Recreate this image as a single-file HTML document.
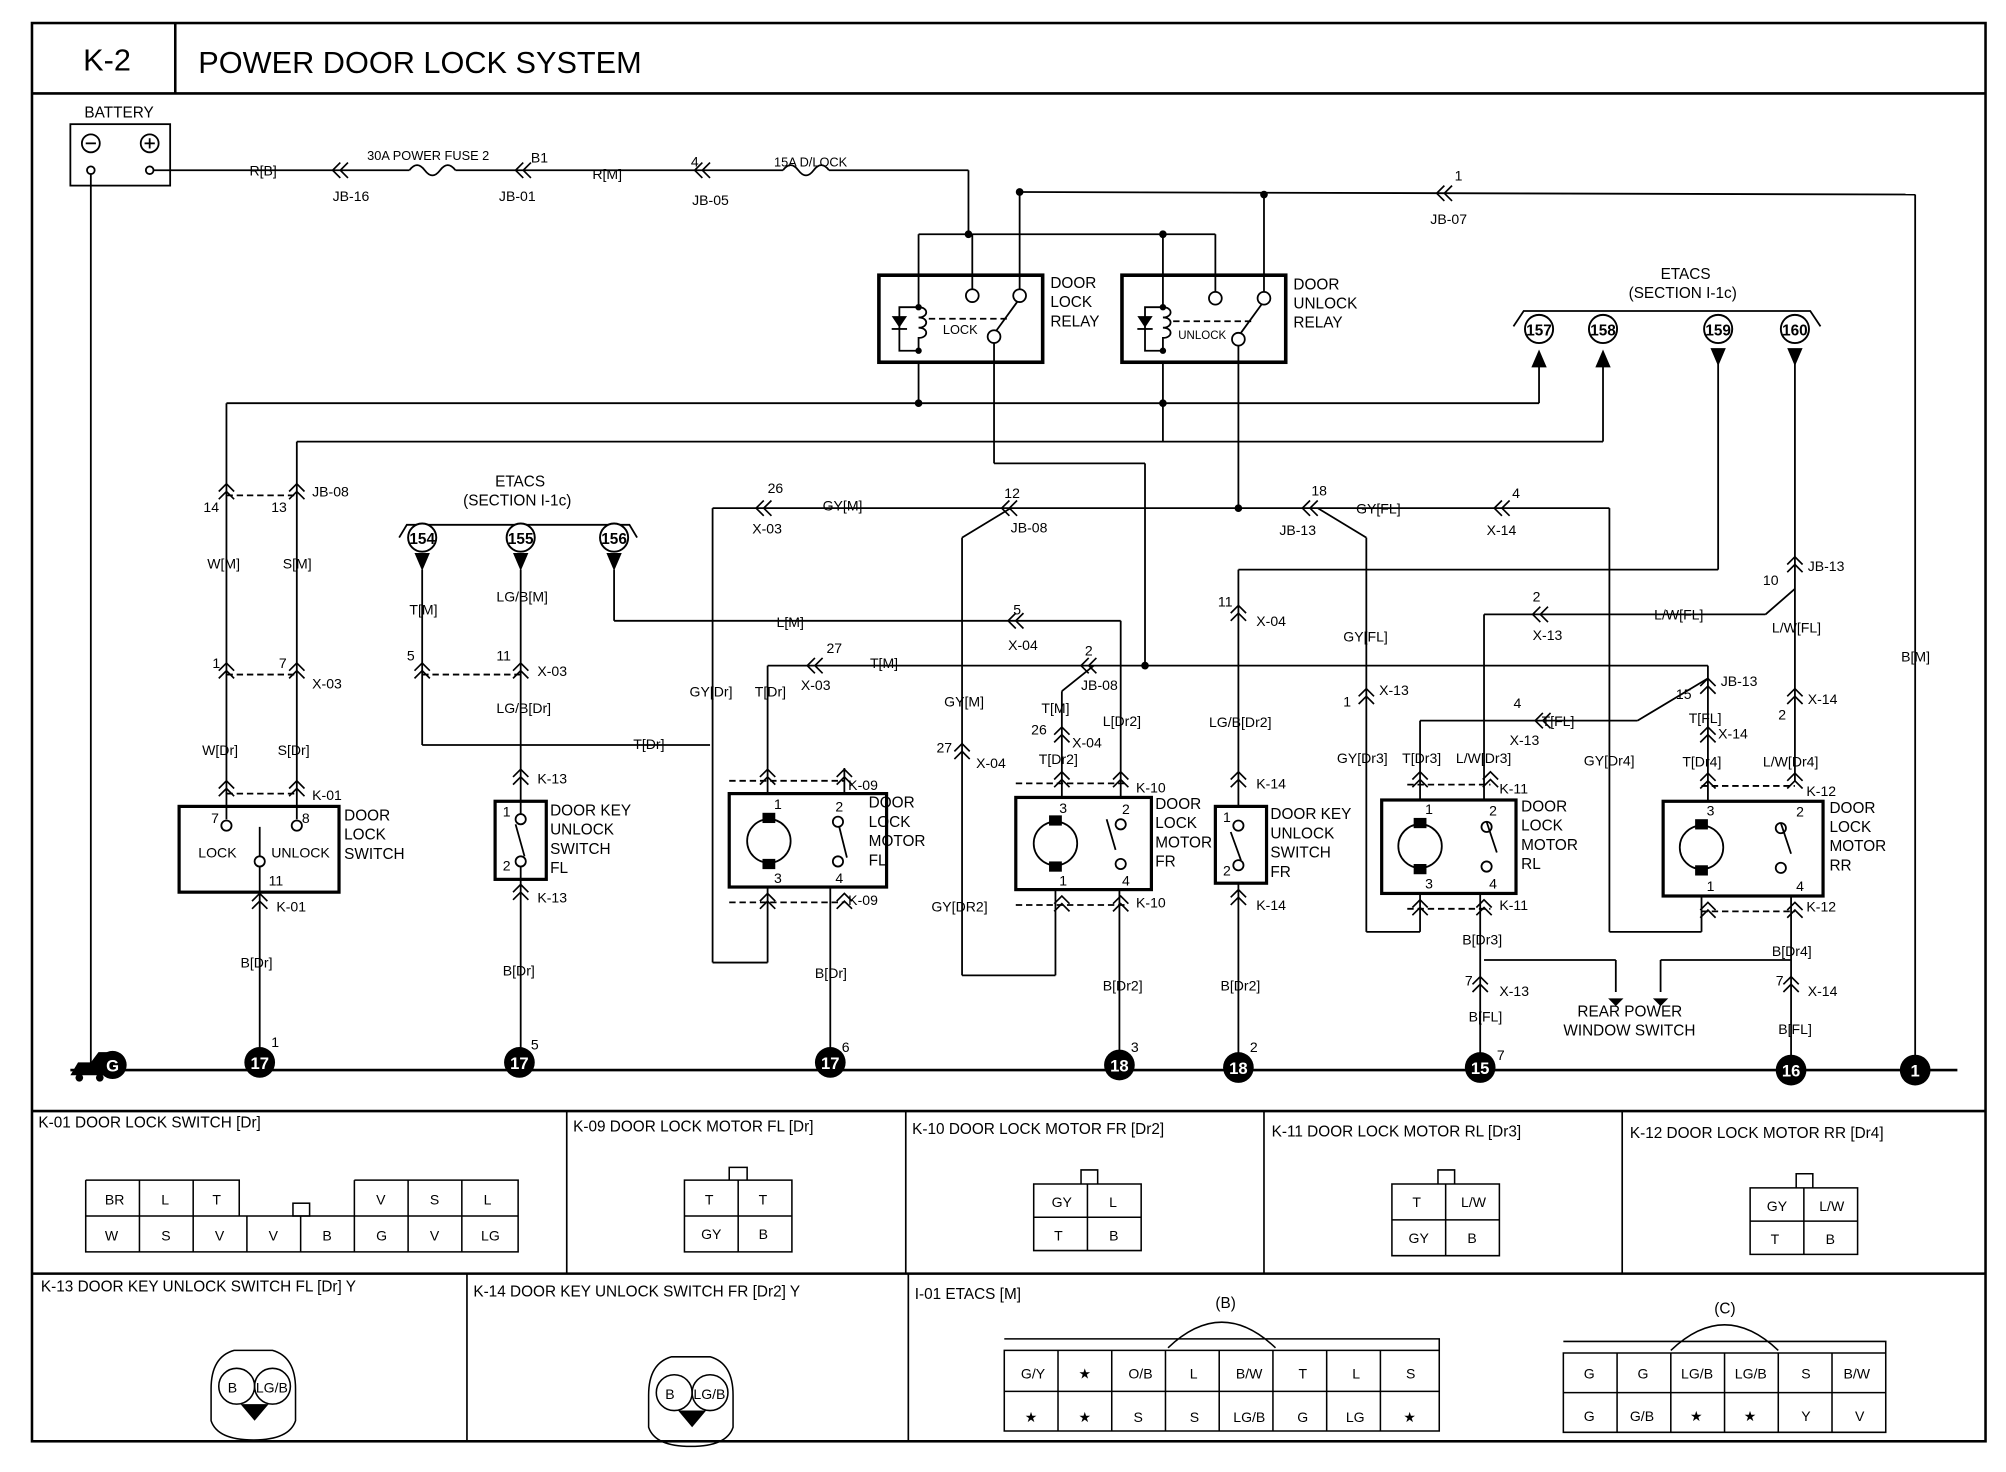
<!DOCTYPE html>
<html><head><meta charset="utf-8"><style>
html,body{margin:0;padding:0;background:#fff;}
svg{display:block}
text{font-family:"Liberation Sans",sans-serif;fill:#000}
</style></head><body>
<svg width="2006" height="1472" viewBox="0 0 1568 1150" preserveAspectRatio="none" xmlns="http://www.w3.org/2000/svg">
<defs>
<g id="cv"><path d="M-6,4 L0,-2 L6,4 M-6,10 L0,4 L6,10" fill="none" stroke="#000" stroke-width="1.3"/></g>
<g id="ch"><path d="M4,-6 L-2,0 L4,6 M10,-6 L4,0 L10,6" fill="none" stroke="#000" stroke-width="1.3"/></g>
</defs>
<g stroke="#000" fill="none" stroke-width="2">
<rect x="25" y="18" width="1527" height="1108"/>
<line x1="25" y1="73" x2="1552" y2="73"/>
<line x1="137" y1="18" x2="137" y2="73"/>
<line x1="25" y1="868" x2="1552" y2="868"/>
<line x1="25" y1="995" x2="1552" y2="995"/>
</g>
<g stroke="#000" stroke-width="1.3">
<line x1="443" y1="868" x2="443" y2="995"/><line x1="708" y1="868" x2="708" y2="995"/>
<line x1="988" y1="868" x2="988" y2="995"/><line x1="1268" y1="868" x2="1268" y2="995"/>
<line x1="365" y1="995" x2="365" y2="1126"/><line x1="710" y1="995" x2="710" y2="1126"/>
</g>
<text x="65" y="55" font-size="24">K-2</text>
<text x="155" y="57" font-size="24">POWER DOOR LOCK SYSTEM</text>

<g stroke="#000" fill="none" stroke-width="1.4">
<!-- battery -->
<rect x="55" y="97" width="78" height="48"/>
<circle cx="71" cy="112" r="7"/><circle cx="117" cy="112" r="7"/>
<line x1="67" y1="112" x2="75" y2="112"/><line x1="113" y1="112" x2="121" y2="112"/><line x1="117" y1="108" x2="117" y2="116"/>
<circle cx="71" cy="133" r="3"/><circle cx="117" cy="133" r="3"/>
<line x1="71" y1="136" x2="71" y2="832"/>
<line x1="120" y1="133" x2="320" y2="133"/>
<path d="M320,133 q6,-8 12,0 q6,8 12,0 q6,-8 12,0"/>
<line x1="356" y1="133" x2="612" y2="133"/>
<path d="M612,133 q6,-8 12,0 q6,8 12,0 q6,-8 12,0"/>
<line x1="648" y1="133" x2="757" y2="133"/>
<line x1="757" y1="133" x2="757" y2="183"/>
<line x1="718" y1="183" x2="950" y2="183"/>
<line x1="718" y1="183" x2="718" y2="240"/><line x1="760" y1="183" x2="760" y2="226"/>
<line x1="909" y1="183" x2="909" y2="240"/><line x1="950" y1="183" x2="950" y2="228"/>
<line x1="797" y1="150" x2="1497" y2="152"/><line x1="797" y1="150" x2="797" y2="226"/>
<line x1="988" y1="152" x2="988" y2="228"/>
<line x1="1497" y1="152" x2="1497" y2="836"/>
<!-- relays -->
<rect x="687" y="215" width="128" height="68" stroke-width="2.8"/>
<rect x="877" y="215" width="128" height="68" stroke-width="2.8"/>
<!-- lock relay internals -->
<path d="M718,240 c8,0 8,8 0,8 c8,0 8,8 0,8 c8,0 8,8 0,8 v10"/>
<path d="M718,240 h-15 v34 h15"/>
<polygon points="697,247 709,247 703,256" fill="#000" stroke="none"/><line x1="697" y1="257" x2="709" y2="257"/>
<circle cx="760" cy="231" r="5"/><circle cx="797" cy="231" r="5"/><circle cx="777" cy="263" r="5"/>
<line x1="779" y1="258" x2="795" y2="236"/>
<line x1="726" y1="249" x2="790" y2="249" stroke-dasharray="5,3"/>
<line x1="777" y1="268" x2="777" y2="283"/>
<!-- unlock relay internals -->
<path d="M909,240 c8,0 8,8 0,8 c8,0 8,8 0,8 c8,0 8,8 0,8 v10"/>
<path d="M909,240 h-14 v34 h14"/>
<polygon points="889,247 901,247 895,256" fill="#000" stroke="none"/><line x1="889" y1="257" x2="901" y2="257"/>
<circle cx="950" cy="233" r="5"/><circle cx="988" cy="233" r="5"/><circle cx="968" cy="265" r="5"/>
<line x1="970" y1="260" x2="986" y2="238"/>
<line x1="917" y1="251" x2="980" y2="251" stroke-dasharray="5,3"/>
<line x1="968" y1="270" x2="968" y2="283"/>
<line x1="718" y1="283" x2="718" y2="315"/>
<line x1="909" y1="283" x2="909" y2="345"/>
<line x1="777" y1="283" x2="777" y2="362"/><line x1="777" y1="362" x2="895" y2="362"/><line x1="895" y1="362" x2="895" y2="520"/>
<line x1="968" y1="283" x2="968" y2="397"/>
<line x1="177" y1="315" x2="1203" y2="315"/><line x1="1203" y1="315" x2="1203" y2="282"/>
<line x1="232" y1="345" x2="1253" y2="345"/><line x1="1253" y1="345" x2="1253" y2="282"/>
<!-- ETACS top bracket -->
<path d="M1183,255 l8,-12 h224 l8,12"/>
<line x1="1343" y1="280" x2="1343" y2="445"/><line x1="968" y1="445" x2="1343" y2="445"/>
<line x1="1403" y1="280" x2="1403" y2="610"/>
<!-- wires left -->
<line x1="177" y1="315" x2="177" y2="640"/><line x1="232" y1="345" x2="232" y2="640"/>
<line x1="177" y1="387" x2="232" y2="387" stroke-dasharray="5,3"/>
<line x1="177" y1="527" x2="232" y2="527" stroke-dasharray="5,3"/>
<line x1="177" y1="620" x2="232" y2="620" stroke-dasharray="5,3"/>
<rect x="140" y="630" width="125" height="67" stroke-width="2.5"/>
<circle cx="177" cy="645" r="4"/><circle cx="232" cy="645" r="4"/><circle cx="203" cy="673" r="4"/>
<line x1="203" y1="646" x2="203" y2="669"/><line x1="203" y1="677" x2="203" y2="697"/>
<line x1="203" y1="697" x2="203" y2="832"/>
<!-- etacs 154-156 -->
<path d="M312,420 l6,-10 h174 l6,10"/>
<line x1="330" y1="445" x2="330" y2="582"/><line x1="330" y1="582" x2="555" y2="582"/>
<line x1="407" y1="445" x2="407" y2="626"/><line x1="407" y1="687" x2="407" y2="832"/>
<line x1="330" y1="527" x2="407" y2="527" stroke-dasharray="5,3"/>
<rect x="387" y="626" width="40" height="61" stroke-width="2.5"/>
<circle cx="407" cy="640" r="4"/><circle cx="407" cy="673" r="4"/><line x1="407" y1="626" x2="407" y2="636"/><line x1="407" y1="677" x2="407" y2="687"/>
<line x1="480" y1="445" x2="480" y2="485"/><line x1="480" y1="485" x2="876" y2="485"/><line x1="876" y1="485" x2="876" y2="623"/>
<!-- GY line -->
<line x1="557" y1="397" x2="1258" y2="397"/>
<line x1="557" y1="397" x2="557" y2="752"/><line x1="557" y1="752" x2="600" y2="752"/><line x1="600" y1="752" x2="600" y2="693"/>
<line x1="790" y1="397" x2="752" y2="420"/><line x1="752" y1="420" x2="752" y2="762"/><line x1="752" y1="762" x2="825" y2="762"/><line x1="825" y1="762" x2="825" y2="695"/>
<line x1="1030" y1="397" x2="1068" y2="420"/><line x1="1068" y1="420" x2="1068" y2="728"/><line x1="1068" y1="728" x2="1110" y2="728"/><line x1="1110" y1="728" x2="1110" y2="698"/>
<line x1="1258" y1="397" x2="1258" y2="728"/><line x1="1258" y1="728" x2="1330" y2="728"/><line x1="1330" y1="728" x2="1330" y2="700"/>
<!-- T[M] -->
<line x1="600" y1="520" x2="1335" y2="520"/><line x1="600" y1="520" x2="600" y2="620"/>
<line x1="830" y1="540" x2="855" y2="520"/><line x1="830" y1="540" x2="830" y2="623"/>
<line x1="1335" y1="520" x2="1335" y2="626"/>
<!-- motors -->
<g stroke-width="2.5">
<rect x="570" y="620" width="123" height="73"/>
<rect x="794" y="623" width="106" height="72"/>
<rect x="1080" y="625" width="105" height="73"/>
<rect x="1300" y="626" width="125" height="74"/>
</g>
<circle cx="601" cy="657" r="17"/><circle cx="825" cy="659" r="17"/><circle cx="1110" cy="661" r="17"/><circle cx="1330" cy="662" r="17"/>
<line x1="660" y1="600" x2="660" y2="620"/><line x1="649" y1="693" x2="649" y2="832"/>
<line x1="875" y1="695" x2="875" y2="832"/>
<line x1="570" y1="610" x2="660" y2="610" stroke-dasharray="5,3"/><line x1="570" y1="705" x2="660" y2="705" stroke-dasharray="5,3"/>
<line x1="794" y1="612" x2="880" y2="612" stroke-dasharray="5,3"/><line x1="794" y1="707" x2="880" y2="707" stroke-dasharray="5,3"/>
<line x1="1100" y1="613" x2="1165" y2="613" stroke-dasharray="5,3"/><line x1="1100" y1="710" x2="1165" y2="710" stroke-dasharray="5,3"/>
<line x1="1330" y1="614" x2="1403" y2="614" stroke-dasharray="5,3"/><line x1="1330" y1="712" x2="1403" y2="712" stroke-dasharray="5,3"/>
<circle cx="655" cy="642" r="4"/><circle cx="655" cy="673" r="4"/><line x1="656" y1="646" x2="662" y2="670"/>
<circle cx="876" cy="644" r="4"/><circle cx="876" cy="675" r="4"/><line x1="865" y1="640" x2="872" y2="664"/>
<circle cx="1162" cy="646" r="4"/><circle cx="1162" cy="677" r="4"/><line x1="1162" y1="642" x2="1170" y2="666"/>
<circle cx="1392" cy="647" r="4"/><circle cx="1392" cy="678" r="4"/><line x1="1392" y1="643" x2="1400" y2="667"/>
<line x1="403" y1="644" x2="410" y2="669"/>
<circle cx="968" cy="645" r="4"/><circle cx="968" cy="676" r="4"/><line x1="962" y1="650" x2="970" y2="672"/>
<!-- key FR -->
<line x1="968" y1="445" x2="968" y2="630"/><rect x="950" y="630" width="40" height="60" stroke-width="2.5"/><line x1="968" y1="690" x2="968" y2="832"/>
<!-- RL / RR -->
<line x1="1160" y1="480" x2="1380" y2="480"/><line x1="1160" y1="480" x2="1160" y2="625"/>
<line x1="1380" y1="480" x2="1403" y2="460"/>
<line x1="1110" y1="563" x2="1280" y2="563"/><line x1="1280" y1="563" x2="1335" y2="530"/><line x1="1110" y1="563" x2="1110" y2="625"/>
<line x1="1157" y1="698" x2="1157" y2="832"/><line x1="1400" y1="700" x2="1400" y2="832"/>
<line x1="1160" y1="750" x2="1263" y2="750"/><line x1="1263" y1="750" x2="1263" y2="775"/>
<line x1="1400" y1="750" x2="1298" y2="750"/><line x1="1298" y1="750" x2="1298" y2="775"/>
<!-- ground -->
<line x1="55" y1="836" x2="1530" y2="836" stroke-width="2"/>
</g>
<g fill="#000">
<polygon points="1257,780 1269,780 1263,786"/><polygon points="1292,780 1304,780 1298,786"/>
<polygon points="1197,287 1209,287 1203,273"/><polygon points="1247,287 1259,287 1253,273"/>
<polygon points="1337,272 1349,272 1343,286"/><polygon points="1397,272 1409,272 1403,286"/>
<polygon points="324,432 336,432 330,446"/><polygon points="401,432 413,432 407,446"/><polygon points="474,432 486,432 480,446"/>
<circle cx="718" cy="315" r="3"/><circle cx="909" cy="315" r="3"/><circle cx="757" cy="183" r="3"/><circle cx="909" cy="183" r="3"/>
<circle cx="718" cy="240" r="2.5"/><circle cx="718" cy="274" r="2.5"/><circle cx="909" cy="240" r="2.5"/><circle cx="909" cy="274" r="2.5"/>
<circle cx="988" cy="152" r="3"/><circle cx="797" cy="150" r="3"/><circle cx="968" cy="397" r="3"/><circle cx="895" cy="520" r="3"/>
<rect x="596" y="635" width="10" height="8"/><rect x="596" y="671" width="10" height="8"/>
<rect x="820" y="637" width="10" height="8"/><rect x="820" y="673" width="10" height="8"/>
<rect x="1105" y="639" width="10" height="8"/><rect x="1105" y="675" width="10" height="8"/>
<rect x="1325" y="640" width="10" height="8"/><rect x="1325" y="676" width="10" height="8"/>
<path d="M55,840 l6,-10 h10 l6,-8 h14 v18z"/><circle cx="62" cy="842" r="3"/><circle cx="78" cy="842" r="3"/>
</g>
<!-- circled markers -->
<g stroke="#000" stroke-width="1.5" fill="#fff">
<circle cx="1203" cy="257" r="11"/><circle cx="1253" cy="257" r="11"/><circle cx="1343" cy="257" r="11"/><circle cx="1403" cy="257" r="11"/>
<circle cx="330" cy="420" r="11"/><circle cx="407" cy="420" r="11"/><circle cx="480" cy="420" r="11"/>
</g>
<g font-size="12" text-anchor="middle" font-weight="bold">
<text x="1203" y="262">157</text><text x="1253" y="262">158</text><text x="1343" y="262">159</text><text x="1403" y="262">160</text>
<text x="330" y="425">154</text><text x="407" y="425">155</text><text x="480" y="425">156</text>
</g>
<g fill="#000">
<circle cx="88" cy="832" r="11"/><circle cx="203" cy="830" r="12"/><circle cx="406" cy="830" r="12"/><circle cx="649" cy="830" r="12"/>
<circle cx="875" cy="832" r="12"/><circle cx="968" cy="834" r="12"/><circle cx="1157" cy="834" r="12"/><circle cx="1400" cy="836" r="12"/><circle cx="1497" cy="836" r="12"/>
</g>
<g font-size="13" text-anchor="middle" font-weight="bold">
<text x="88" y="837" style="fill:#fff">G</text><text x="203" y="835" style="fill:#fff">17</text><text x="406" y="835" style="fill:#fff">17</text><text x="649" y="835" style="fill:#fff">17</text>
<text x="875" y="837" style="fill:#fff">18</text><text x="968" y="839" style="fill:#fff">18</text><text x="1157" y="839" style="fill:#fff">15</text><text x="1400" y="841" style="fill:#fff">16</text><text x="1497" y="841" style="fill:#fff">1</text>
</g>
<!-- connector chevrons -->
<g>
<use href="#ch" x="262" y="133"/><use href="#ch" x="405" y="133"/><use href="#ch" x="545" y="133"/><use href="#ch" x="1125" y="151"/>
<use href="#cv" x="177" y="380"/><use href="#cv" x="232" y="380"/><use href="#cv" x="177" y="520"/><use href="#cv" x="232" y="520"/>
<use href="#cv" x="177" y="612"/><use href="#cv" x="232" y="612"/><use href="#cv" x="203" y="700"/>
<use href="#cv" x="330" y="520"/><use href="#cv" x="407" y="520"/><use href="#cv" x="407" y="603"/><use href="#cv" x="407" y="693"/>
<use href="#ch" x="593" y="397"/><use href="#ch" x="785" y="397"/><use href="#ch" x="1020" y="397"/><use href="#ch" x="1170" y="397"/>
<use href="#ch" x="633" y="520"/><use href="#ch" x="790" y="485"/><use href="#ch" x="847" y="520"/><use href="#ch" x="1200" y="480"/><use href="#ch" x="1202" y="563"/>
<use href="#cv" x="600" y="603"/><use href="#cv" x="660" y="603"/><use href="#cv" x="600" y="700"/><use href="#cv" x="660" y="700"/>
<use href="#cv" x="752" y="583"/><use href="#cv" x="830" y="570"/><use href="#cv" x="830" y="605"/><use href="#cv" x="876" y="605"/><use href="#cv" x="830" y="702"/><use href="#cv" x="876" y="702"/>
<use href="#cv" x="968" y="475"/><use href="#cv" x="968" y="605"/><use href="#cv" x="968" y="697"/>
<use href="#cv" x="1068" y="540"/><use href="#cv" x="1110" y="605"/><use href="#cv" x="1165" y="605"/><use href="#cv" x="1110" y="705"/><use href="#cv" x="1160" y="705"/><use href="#cv" x="1157" y="765"/>
<use href="#cv" x="1335" y="532"/><use href="#cv" x="1335" y="570"/><use href="#cv" x="1335" y="606"/><use href="#cv" x="1403" y="606"/><use href="#cv" x="1335" y="707"/><use href="#cv" x="1403" y="707"/>
<use href="#cv" x="1403" y="437"/><use href="#cv" x="1403" y="540"/><use href="#cv" x="1400" y="765"/>
</g>
<!-- labels -->
<g font-size="11">
<text x="66" y="92" font-size="12">BATTERY</text>
<text x="195" y="137">R[B]</text><text x="287" y="125" font-size="10">30A POWER FUSE 2</text><text x="415" y="127">B1</text>
<text x="260" y="157">JB-16</text><text x="390" y="157">JB-01</text><text x="463" y="140">R[M]</text>
<text x="540" y="130">4</text><text x="605" y="130" font-size="10">15A D/LOCK</text><text x="541" y="160">JB-05</text>
<text x="1137" y="141">1</text><text x="1118" y="175">JB-07</text>
<text x="821" y="225" font-size="12">DOOR</text><text x="821" y="240" font-size="12">LOCK</text><text x="821" y="255" font-size="12">RELAY</text>
<text x="1011" y="226" font-size="12">DOOR</text><text x="1011" y="241" font-size="12">UNLOCK</text><text x="1011" y="256" font-size="12">RELAY</text>
<text x="737" y="261" font-size="10">LOCK</text><text x="921" y="265" font-size="9">UNLOCK</text>
<text x="1298" y="218" font-size="12">ETACS</text><text x="1273" y="233" font-size="12">(SECTION I-1c)</text>
<text x="387" y="380" font-size="12">ETACS</text><text x="362" y="395" font-size="12">(SECTION I-1c)</text>
<text x="159" y="400">14</text><text x="212" y="400">13</text><text x="244" y="388">JB-08</text>
<text x="162" y="444">W[M]</text><text x="221" y="444">S[M]</text>
<text x="166" y="522">1</text><text x="218" y="522">7</text><text x="244" y="538">X-03</text>
<text x="158" y="590">W[Dr]</text><text x="217" y="590">S[Dr]</text><text x="244" y="625">K-01</text>
<text x="165" y="643">7</text><text x="236" y="643">8</text><text x="155" y="670">LOCK</text><text x="212" y="670">UNLOCK</text><text x="210" y="692">11</text>
<text x="269" y="641" font-size="12">DOOR</text><text x="269" y="656" font-size="12">LOCK</text><text x="269" y="671" font-size="12">SWITCH</text>
<text x="216" y="712">K-01</text><text x="188" y="756">B[Dr]</text><text x="212" y="818">1</text>
<text x="320" y="480">T[M]</text><text x="388" y="470">LG/B[M]</text><text x="318" y="516">5</text><text x="388" y="516">11</text><text x="420" y="528">X-03</text>
<text x="388" y="557">LG/B[Dr]</text><text x="495" y="585">T[Dr]</text><text x="420" y="612">K-13</text>
<text x="393" y="638">1</text><text x="393" y="680">2</text><text x="420" y="705">K-13</text><text x="393" y="762">B[Dr]</text><text x="415" y="820">5</text>
<text x="430" y="637" font-size="12">DOOR KEY</text><text x="430" y="652" font-size="12">UNLOCK</text><text x="430" y="667" font-size="12">SWITCH</text><text x="430" y="682" font-size="12">FL</text>
<text x="600" y="385">26</text><text x="588" y="417">X-03</text><text x="643" y="399">GY[M]</text>
<text x="785" y="389">12</text><text x="790" y="416">JB-08</text><text x="1025" y="387">18</text><text x="1000" y="418">JB-13</text><text x="1060" y="401">GY[FL]</text>
<text x="1182" y="389">4</text><text x="1162" y="418">X-14</text>
<text x="607" y="490">L[M]</text><text x="792" y="480">5</text><text x="788" y="508">X-04</text><text x="848" y="512">2</text><text x="845" y="539">JB-08</text>
<text x="646" y="510">27</text><text x="680" y="522">T[M]</text><text x="626" y="539">X-03</text>
<text x="539" y="544">GY[Dr]</text><text x="590" y="544">T[Dr]</text><text x="738" y="552">GY[M]</text>
<text x="814" y="557">T[M]</text><text x="862" y="567">L[Dr2]</text><text x="806" y="574">26</text><text x="838" y="584">X-04</text><text x="812" y="597">T[Dr2]</text>
<text x="732" y="588">27</text><text x="763" y="600">X-04</text>
<text x="663" y="617">K-09</text><text x="605" y="632">1</text><text x="653" y="634">2</text><text x="605" y="690">3</text><text x="653" y="690">4</text><text x="663" y="707">K-09</text>
<text x="679" y="631" font-size="12">DOOR</text><text x="679" y="646" font-size="12">LOCK</text><text x="679" y="661" font-size="12">MOTOR</text><text x="679" y="676" font-size="12">FL</text>
<text x="637" y="764">B[Dr]</text><text x="658" y="822">6</text>
<text x="888" y="619">K-10</text><text x="828" y="635">3</text><text x="877" y="636">2</text><text x="828" y="692">1</text><text x="877" y="692">4</text><text x="888" y="709">K-10</text>
<text x="903" y="632" font-size="12">DOOR</text><text x="903" y="647" font-size="12">LOCK</text><text x="903" y="662" font-size="12">MOTOR</text><text x="903" y="677" font-size="12">FR</text>
<text x="728" y="712">GY[DR2]</text><text x="862" y="774">B[Dr2]</text><text x="884" y="822">3</text>
<text x="952" y="474">11</text><text x="982" y="489">X-04</text><text x="945" y="568">LG/B[Dr2]</text><text x="982" y="616">K-14</text>
<text x="956" y="642">1</text><text x="956" y="684">2</text><text x="982" y="711">K-14</text><text x="954" y="774">B[Dr2]</text><text x="977" y="822">2</text>
<text x="993" y="640" font-size="12">DOOR KEY</text><text x="993" y="655" font-size="12">UNLOCK</text><text x="993" y="670" font-size="12">SWITCH</text><text x="993" y="685" font-size="12">FR</text>
<text x="1050" y="501">GY[FL]</text><text x="1050" y="552">1</text><text x="1078" y="543">X-13</text><text x="1045" y="596">GY[Dr3]</text>
<text x="1198" y="470">2</text><text x="1198" y="500">X-13</text><text x="1293" y="484">L/W[FL]</text><text x="1183" y="553">4</text><text x="1205" y="567">T[FL]</text><text x="1180" y="582">X-13</text>
<text x="1096" y="596">T[Dr3]</text><text x="1138" y="596">L/W[Dr3]</text><text x="1172" y="620">K-11</text>
<text x="1114" y="636">1</text><text x="1164" y="637">2</text><text x="1114" y="694">3</text><text x="1164" y="694">4</text><text x="1172" y="711">K-11</text>
<text x="1189" y="634" font-size="12">DOOR</text><text x="1189" y="649" font-size="12">LOCK</text><text x="1189" y="664" font-size="12">MOTOR</text><text x="1189" y="679" font-size="12">RL</text>
<text x="1143" y="738">B[Dr3]</text><text x="1145" y="770">7</text><text x="1172" y="778">X-13</text><text x="1148" y="798">B[FL]</text><text x="1170" y="828">7</text>
<text x="1233" y="794" font-size="12">REAR POWER</text><text x="1222" y="809" font-size="12">WINDOW SWITCH</text>
<text x="1238" y="598">GY[Dr4]</text><text x="1310" y="546">15</text><text x="1345" y="536">JB-13</text><text x="1320" y="565">T[FL]</text><text x="1343" y="577">X-14</text>
<text x="1315" y="599">T[Dr4]</text><text x="1378" y="599">L/W[Dr4]</text><text x="1412" y="622">K-12</text>
<text x="1334" y="637">3</text><text x="1404" y="638">2</text><text x="1334" y="696">1</text><text x="1404" y="696">4</text><text x="1412" y="712">K-12</text>
<text x="1430" y="635" font-size="12">DOOR</text><text x="1430" y="650" font-size="12">LOCK</text><text x="1430" y="665" font-size="12">MOTOR</text><text x="1430" y="680" font-size="12">RR</text>
<text x="1385" y="747">B[Dr4]</text><text x="1388" y="770">7</text><text x="1413" y="778">X-14</text><text x="1390" y="808">B[FL]</text>
<text x="1378" y="457">10</text><text x="1413" y="446">JB-13</text><text x="1385" y="494">L/W[FL]</text><text x="1390" y="562">2</text><text x="1413" y="550">X-14</text>
<text x="1486" y="517">B[M]</text>
</g>
<!-- bottom tables -->
<g font-size="12">
<text x="30" y="881">K-01 DOOR LOCK SWITCH [Dr]</text>
<text x="448" y="884">K-09 DOOR LOCK MOTOR FL [Dr]</text>
<text x="713" y="886">K-10 DOOR LOCK MOTOR FR [Dr2]</text>
<text x="994" y="888">K-11 DOOR LOCK MOTOR RL [Dr3]</text>
<text x="1274" y="889">K-12 DOOR LOCK MOTOR RR [Dr4]</text>
<text x="32" y="1009">K-13 DOOR KEY UNLOCK SWITCH FL [Dr] Y</text>
<text x="370" y="1013">K-14 DOOR KEY UNLOCK SWITCH FR [Dr2] Y</text>
<text x="715" y="1015">I-01 ETACS [M]</text>
<text x="950" y="1022">(B)</text><text x="1340" y="1026">(C)</text>
</g>
<g stroke="#000" stroke-width="1.2" fill="none">
<path d="M67,922 H187 V950 M277,922 H405 V978 H67 V922 M67,950 H405 M109,922 V978 M151,922 V978 M193,950 V978 M235,950 V978 M277,922 V978 M319,922 V978 M361,922 V978"/>
<rect x="229" y="940" width="13" height="10"/>
<path d="M535,922 h84 v56 h-84z M535,950 h84 M577,922 v56 M570,912 h14 v10 h-14z"/>
<path d="M808,925 h84 v52 h-84z M808,951 h84 M850,925 v52 M845,914 h13 v11 h-13z"/>
<path d="M1088,925 h84 v56 h-84z M1088,953 h84 M1130,925 v56 M1124,914 h13 v11 h-13z"/>
<path d="M1368,928 h84 v52 h-84z M1368,954 h84 M1410,928 v52 M1404,917 h13 v11 h-13z"/>
<path d="M785,1055 h340 v63 h-340z M785,1087 h340 M827,1055 v63 M869,1055 v63 M911,1055 v63 M953,1055 v63 M995,1055 v63 M1037,1055 v63 M1079,1055 v63 M785,1046 h340 v9 M913,1053 q42,-40 84,0"/>
<path d="M1222,1057 h252 v62 h-252z M1222,1088 h252 M1264,1057 v62 M1306,1057 v62 M1348,1057 v62 M1390,1057 v62 M1432,1057 v62 M1222,1048 h252 v9 M1306,1055 q42,-40 84,0"/>
<path d="M165,1085 q0,-25 18,-30 h30 q18,5 18,30 v25 q-5,15 -33,15 q-28,0 -33,-15z"/>
<circle cx="185" cy="1083" r="14"/><circle cx="213" cy="1083" r="14"/>
<path d="M507,1090 q0,-25 18,-30 h30 q18,5 18,30 v25 q-5,15 -33,15 q-28,0 -33,-15z"/>
<circle cx="527" cy="1088" r="14"/><circle cx="555" cy="1088" r="14"/>
</g>
<polygon points="188,1097 210,1097 199,1110" fill="#000"/><polygon points="530,1102 552,1102 541,1115" fill="#000"/>
<g font-size="11">
<text x="82" y="941">BR</text><text x="126" y="941">L</text><text x="166" y="941">T</text><text x="294" y="941">V</text><text x="336" y="941">S</text><text x="378" y="941">L</text>
<text x="82" y="969">W</text><text x="126" y="969">S</text><text x="168" y="969">V</text><text x="210" y="969">V</text><text x="252" y="969">B</text><text x="294" y="969">G</text><text x="336" y="969">V</text><text x="376" y="969">LG</text>
<text x="551" y="941">T</text><text x="593" y="941">T</text><text x="548" y="968">GY</text><text x="593" y="968">B</text>
<text x="822" y="943">GY</text><text x="867" y="943">L</text><text x="824" y="969">T</text><text x="867" y="969">B</text>
<text x="1104" y="943">T</text><text x="1142" y="943">L/W</text><text x="1101" y="971">GY</text><text x="1147" y="971">B</text>
<text x="1381" y="946">GY</text><text x="1422" y="946">L/W</text><text x="1384" y="972">T</text><text x="1427" y="972">B</text>
<text x="798" y="1077">G/Y</text><text x="843" y="1077">★</text><text x="882" y="1077">O/B</text><text x="930" y="1077">L</text><text x="966" y="1077">B/W</text><text x="1015" y="1077">T</text><text x="1057" y="1077">L</text><text x="1099" y="1077">S</text>
<text x="801" y="1111">★</text><text x="843" y="1111">★</text><text x="886" y="1111">S</text><text x="930" y="1111">S</text><text x="964" y="1111">LG/B</text><text x="1014" y="1111">G</text><text x="1052" y="1111">LG</text><text x="1097" y="1111">★</text>
<text x="1238" y="1077">G</text><text x="1280" y="1077">G</text><text x="1314" y="1077">LG/B</text><text x="1356" y="1077">LG/B</text><text x="1408" y="1077">S</text><text x="1441" y="1077">B/W</text>
<text x="1238" y="1110">G</text><text x="1274" y="1110">G/B</text><text x="1321" y="1110">★</text><text x="1363" y="1110">★</text><text x="1408" y="1110">Y</text><text x="1450" y="1110">V</text>
<text x="178" y="1088">B</text><text x="200" y="1088">LG/B</text><text x="520" y="1093">B</text><text x="542" y="1093">LG/B</text>
</g>
</svg>
</body></html>
